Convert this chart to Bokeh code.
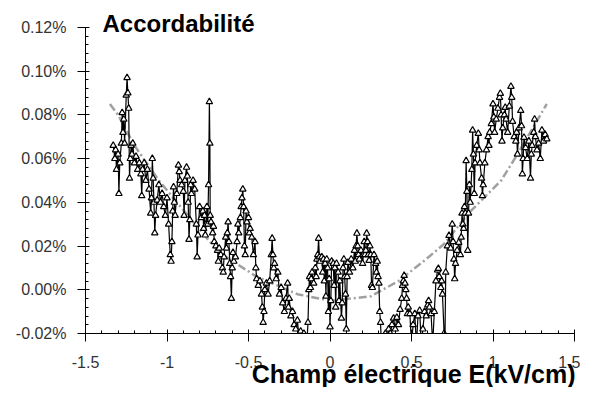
from bokeh.plotting import figure
from bokeh.models import (SingleIntervalTicker, PrintfTickFormatter, CustomJSTickFormatter,
                          Label, LinearAxis, Range1d)
from bokeh.embed import file_html
from bokeh.resources import INLINE

# Electric field E (kV/cm) and tunability (%)
field_E = [
    -1.33, -1.32, -1.315, -1.31, -1.30, -1.295, -1.29, -1.28, -1.275, -1.27,
    -1.265, -1.26, -1.25, -1.245, -1.24, -1.235, -1.23, -1.225, -1.22, -1.215,
    -1.21, -1.20, -1.19, -1.18, -1.17, -1.16, -1.155, -1.15, -1.14, -1.13,
    -1.12, -1.11, -1.10, -1.095, -1.09, -1.085, -1.08, -1.075, -1.07, -1.06,
    -1.05, -1.04, -1.03, -1.02, -1.01, -1.00, -0.99, -0.98, -0.975, -0.97,
    -0.965, -0.96, -0.955, -0.95, -0.94, -0.93, -0.925, -0.92, -0.91, -0.90,
    -0.895, -0.89, -0.88, -0.875, -0.87, -0.865, -0.86, -0.855, -0.85, -0.84,
    -0.83, -0.82, -0.815, -0.81, -0.80, -0.79, -0.78, -0.775, -0.77, -0.765,
    -0.76, -0.755, -0.75, -0.745, -0.74, -0.737, -0.735, -0.73, -0.72, -0.715,
    -0.71, -0.70, -0.69, -0.685, -0.68, -0.67, -0.66, -0.655, -0.65, -0.64,
    -0.635, -0.63, -0.625, -0.62, -0.615, -0.61, -0.605, -0.60, -0.595, -0.59,
    -0.58, -0.57, -0.565, -0.56, -0.55, -0.545, -0.54, -0.535, -0.53, -0.525,
    -0.52, -0.515, -0.51, -0.50, -0.495, -0.49, -0.48, -0.47, -0.46, -0.455,
    -0.45, -0.44, -0.43, -0.42, -0.415, -0.41, -0.405, -0.40, -0.39, -0.38,
    -0.37, -0.36, -0.355, -0.35, -0.345, -0.34, -0.33, -0.32, -0.31, -0.30,
    -0.29, -0.28, -0.27, -0.26, -0.255, -0.25, -0.24, -0.23, -0.22, -0.21,
    -0.20, -0.19, -0.18, -0.17, -0.16, -0.15, -0.14, -0.135, -0.13, -0.125,
    -0.12, -0.115, -0.11, -0.10, -0.09, -0.085, -0.08, -0.075, -0.07, -0.065,
    -0.06, -0.05, -0.045, -0.04, -0.035, -0.03, -0.025, -0.02, -0.015, -0.01,
    -0.005, 0.00, 0.005, 0.01, 0.02, 0.025, 0.03, 0.035, 0.04, 0.05,
    0.055, 0.06, 0.07, 0.075, 0.08, 0.085, 0.09, 0.095, 0.10, 0.105,
    0.11, 0.12, 0.13, 0.14, 0.15, 0.155, 0.16, 0.165, 0.17, 0.175,
    0.18, 0.19, 0.20, 0.205, 0.21, 0.215, 0.22, 0.225, 0.23, 0.235,
    0.24, 0.245, 0.25, 0.255, 0.26, 0.27, 0.28, 0.285, 0.29, 0.295,
    0.30, 0.305, 0.31, 0.315, 0.32, 0.33, 0.34, 0.35, 0.36, 0.37,
    0.38, 0.39, 0.40, 0.41, 0.42, 0.43, 0.44, 0.445, 0.45, 0.455,
    0.46, 0.465, 0.47, 0.475, 0.48, 0.49, 0.50, 0.51, 0.52, 0.53,
    0.54, 0.55, 0.56, 0.57, 0.58, 0.59, 0.60, 0.605, 0.61, 0.62,
    0.63, 0.64, 0.65, 0.66, 0.665, 0.67, 0.68, 0.685, 0.69, 0.70,
    0.705, 0.71, 0.72, 0.73, 0.74, 0.75, 0.755, 0.76, 0.765, 0.77,
    0.78, 0.79, 0.80, 0.805, 0.81, 0.815, 0.82, 0.825, 0.83, 0.835,
    0.84, 0.845, 0.85, 0.855, 0.86, 0.87, 0.875, 0.88, 0.885, 0.89,
    0.90, 0.91, 0.915, 0.92, 0.93, 0.935, 0.94, 0.95, 0.96, 0.97,
    0.975, 0.98, 0.99, 1.00, 1.005, 1.01, 1.02, 1.03, 1.04, 1.045,
    1.05, 1.055, 1.06, 1.07, 1.075, 1.08, 1.09, 1.10, 1.11, 1.115,
    1.12, 1.13, 1.14, 1.145, 1.15, 1.16, 1.17, 1.175, 1.18, 1.185,
    1.19, 1.20, 1.21, 1.22, 1.23, 1.235, 1.24, 1.25, 1.255, 1.26,
    1.27, 1.28, 1.29, 1.30, 1.31, 1.32, 1.33,
]
tunability = [
    0.066, 0.060, 0.064, 0.055, 0.062, 0.044, 0.058, 0.067, 0.081, 0.072,
    0.078, 0.067, 0.089, 0.097, 0.090, 0.083, 0.051, 0.060, 0.066, 0.062,
    0.067, 0.058, 0.061, 0.055, 0.058, 0.053, 0.043, 0.055, 0.058, 0.050,
    0.055, 0.046, 0.035, 0.042, 0.060, 0.051, 0.040, 0.026, 0.034, 0.041,
    0.048, 0.040, 0.044, 0.038, 0.034, 0.042, 0.030, 0.016, 0.013, 0.022,
    0.036, 0.047, 0.040, 0.034, 0.044, 0.057, 0.054, 0.050, 0.048, 0.045,
    0.034, 0.050, 0.056, 0.052, 0.040, 0.023, 0.032, 0.048, 0.044, 0.050,
    0.046, 0.030, 0.015, 0.025, 0.038, 0.033, 0.036, 0.028, 0.034, 0.025,
    0.030, 0.038, 0.030, 0.048, 0.086, 0.067, 0.034, 0.031, 0.026, 0.029,
    0.022, 0.020, 0.018, 0.013, 0.019, 0.016, 0.010, 0.008, 0.015, 0.024,
    0.019, 0.026, 0.031, 0.022, 0.012, 0.006, -0.004, 0.010, 0.017, 0.013,
    0.015, 0.022, 0.030, 0.026, 0.033, 0.038, 0.042, 0.046, 0.038, 0.020,
    0.016, 0.036, 0.031, 0.033, 0.026, 0.028, 0.024, 0.016, 0.022, 0.010,
    0.005, 0.002, 0.004, -0.002, -0.008, -0.015, -0.010, 0.000, 0.003, -0.002,
    0.004, 0.016, 0.0235, 0.016, 0.010, 0.012, 0.005, 0.008, -0.002, 0.001,
    -0.006, -0.010, -0.004, 0.003, -0.008, -0.004, -0.012, -0.010, -0.016, -0.018,
    -0.014, -0.022, -0.019, -0.025, -0.020, -0.025, -0.022, -0.015, 0.000, 0.006,
    0.001, 0.005, 0.008, 0.003, 0.010, 0.006, 0.014, 0.016, 0.0235, 0.015,
    0.013, 0.015, 0.008, 0.014, 0.004, 0.012, -0.003, 0.014, 0.010, -0.010,
    0.005, -0.017, -0.005, 0.013, 0.012, 0.002, 0.010, -0.008, 0.012, 0.008,
    -0.005, 0.004, -0.013, -0.006, 0.010, 0.014, 0.006, -0.002, -0.018, 0.006,
    0.0125, 0.008, 0.014, 0.010, 0.018, 0.013, 0.020, 0.0258, 0.020, 0.016,
    0.014, 0.018, 0.012, 0.016, 0.022, 0.016, 0.018, 0.0258, 0.022, 0.016,
    0.0134, 0.020, 0.016, 0.002, 0.001, 0.016, 0.012, 0.008, 0.013, 0.006,
    0.003, -0.010, -0.015, -0.025, -0.022, -0.025, -0.020, -0.022, -0.018, -0.020,
    -0.016, -0.013, -0.018, -0.0127, -0.016, -0.009, -0.004, 0.002, 0.004, 0.0065,
    0.003, 0.000, -0.004, -0.011, -0.008, -0.011, -0.025, -0.016, -0.011, -0.025,
    -0.012, -0.0095, -0.025, -0.018, -0.010, -0.012, -0.007, -0.005, -0.008, -0.011,
    -0.025, -0.010, 0.004, 0.009, 0.0097, 0.006, 0.001, 0.004, -0.002, -0.020,
    -0.025, 0.008, 0.020, 0.0248, 0.019, 0.030, 0.022, 0.014, 0.005, 0.012,
    0.018, 0.0216, 0.016, 0.024, 0.035, 0.030, 0.028, 0.038, 0.035, 0.059,
    0.045, 0.018, 0.035, 0.048, 0.040, 0.055, 0.073, 0.062, 0.044, 0.058,
    0.066, 0.0715, 0.064, 0.058, 0.051, 0.043, 0.048, 0.058, 0.064, 0.070,
    0.066, 0.072, 0.076, 0.085, 0.079, 0.072, 0.078, 0.083, 0.088, 0.0898,
    0.080, 0.068, 0.074, 0.080, 0.0834, 0.078, 0.072, 0.084, 0.093, 0.088,
    0.077, 0.070, 0.068, 0.072, 0.062, 0.074, 0.082, 0.075, 0.053, 0.060,
    0.0697, 0.065, 0.060, 0.068, 0.051, 0.062, 0.066, 0.072, 0.078, 0.070,
    0.064, 0.067, 0.060, 0.073, 0.068, 0.071, 0.069,
]

# Gray dash-dot fit curve
fit_E = [-1.35, -1.30, -1.25, -1.20, -1.05, -0.85, -0.68, -0.45, -0.20, 0.00,
         0.25, 0.42, 0.59, 0.70, 0.85, 1.05, 1.15, 1.33]
fit_T = [0.085, 0.080, 0.073, 0.066, 0.050, 0.032, 0.017, 0.006, -0.002, -0.005,
         -0.003, 0.004, 0.014, 0.021, 0.035, 0.050, 0.062, 0.085]

x_min, x_max = -1.5, 1.5
y_min, y_max = -0.02, 0.12
title_text = "Accordabilité"
xlabel_text = "Champ électrique E(kV/cm)"

# canvas / frame geometry (frame fills the whole canvas; axes are placed at fixed data locations)
W, H = 580, 387
px_left, px_right = 85, 574      # pixel positions of x_min, x_max
px_top, px_bottom = 27, 333      # pixel positions of y_max, y_min
sx = (x_max - x_min) / (px_right - px_left)
sy = (y_max - y_min) / (px_bottom - px_top)
X0 = x_min - px_left * sx
X1 = X0 + W * sx
Y1 = y_max + px_top * sy
Y0 = Y1 - H * sy

def px_to_x(px):
    return X0 + px * sx

def py_to_y(py):
    return Y1 - py * sy

p = figure(width=W, height=H, x_range=Range1d(X0, X1), y_range=Range1d(Y0, Y1),
           output_backend="svg", toolbar_location=None,
           x_axis_location=None, y_axis_location=None, min_border=0)
p.outline_line_color = None
p.grid.visible = False
p.background_fill_color = "white"
p.border_fill_color = "white"

xaxis = LinearAxis(fixed_location=y_min, bounds=(x_min, x_max),
                   ticker=SingleIntervalTicker(interval=0.5, num_minor_ticks=5),
                   formatter=CustomJSTickFormatter(code="return (Math.round(tick*10)/10).toString();"))
yaxis = LinearAxis(fixed_location=x_min, bounds=(y_min, y_max),
                   ticker=SingleIntervalTicker(interval=0.02, num_minor_ticks=5),
                   formatter=PrintfTickFormatter(format="%.2f%%"))
for ax in (xaxis, yaxis):
    ax.axis_line_color = "black"
    ax.major_tick_line_color = "black"
    ax.minor_tick_line_color = "black"
    ax.major_tick_out = 8
    ax.major_tick_in = 4
    ax.minor_tick_in = 3
    ax.minor_tick_out = 0
    ax.major_label_text_font = "Liberation Sans"
    ax.major_label_text_font_size = "16px"
    ax.major_label_text_color = "#333333"
xaxis.major_label_standoff = 14
yaxis.major_label_standoff = 11
p.add_layout(xaxis, "below")
p.add_layout(yaxis, "left")

p.line(fit_E, fit_T, line_color="#a0a0a0", line_width=2.5, line_dash="8 3 2 3")
p.line(field_E, tunability, line_color="black", line_width=1.2)
p.scatter(field_E, tunability, marker="triangle", size=6.5, fill_color="white",
          line_color="black", line_width=1.2)
# white mask: the data are cut at the bottom of the value range, as in the original
p.quad(left=X0, right=X1, top=y_min, bottom=Y0, fill_color="white", line_color=None)

p.add_layout(Label(x=px_to_x(102), y=py_to_y(23), text=title_text, text_font="Liberation Sans",
                   text_font_size="24px", text_font_style="bold", text_color="black",
                   text_baseline="alphabetic", text_align="left"))
p.add_layout(Label(x=px_to_x(575), y=py_to_y(373), text=xlabel_text, text_font="Liberation Sans",
                   text_font_size="25px", text_font_style="bold", text_color="black",
                   text_baseline="alphabetic", text_align="right"))

open("out.html", "w").write(file_html(p, INLINE))
